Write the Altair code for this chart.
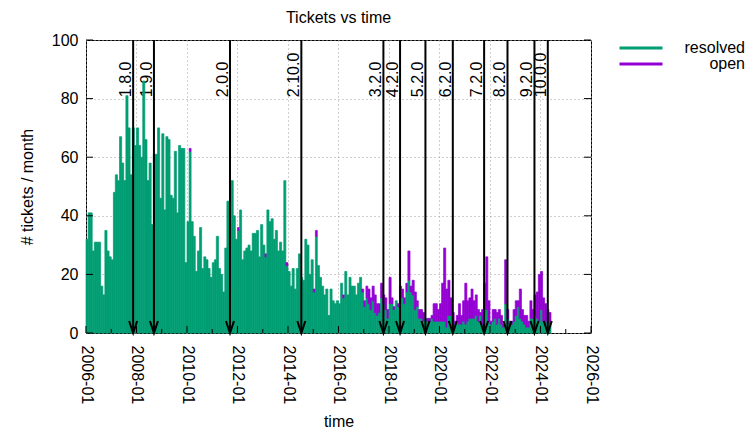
import altair as alt
import pandas as pd

FONT = "Liberation Sans"

# ---------------- data ----------------
start_month = "2006-01-01"

resolved = [
    32, 41, 41, 28, 31, 31, 31, 16, 13, 35, 28, 26,   # 2006
    25, 48, 54, 52, 67, 58, 52, 81, 70, 54, 70, 64,   # 2007
    70, 64, 60, 86, 66, 52, 58, 37, 61, 61, 70, 46,   # 2008
    68, 42, 67, 66, 47, 46, 62, 41, 64, 63, 63, 24,   # 2009
    38, 62, 38, 33, 21, 28, 36, 22, 26, 25, 22, 19,   # 2010
    24, 25, 33, 22, 20, 14, 29, 45, 37, 52, 40, 32,   # 2011
    35, 42, 25, 28, 29, 30, 28, 34, 34, 35, 26, 37,   # 2012
    30, 26, 42, 38, 39, 32, 35, 28, 31, 28, 52, 23,   # 2013
    21, 16, 22, 15, 22, 27, 19, 18, 32, 30, 20, 25,   # 2014
    14, 33, 23, 19, 16, 13, 15, 6, 15, 11, 10, 11,    # 2015
    10, 17, 12, 21, 13, 19, 16, 16, 13, 17, 19, 14,   # 2016
    9, 12, 10, 8, 11, 7, 6, 7, 12, 10, 8, 5,          # 2017
    10, 10, 8, 11, 9, 10, 12, 10, 14, 18, 14, 13,     # 2018
    8, 9, 5, 5, 4, 5, 4, 4, 5, 4, 4, 4,               # 2019
    4, 4, 4, 2, 6, 6, 4, 3, 4, 3, 3, 4,               # 2020
    3, 4, 5, 5, 5, 6, 4, 6, 3, 7, 8, 4,               # 2021
    3, 4, 5, 3, 5, 3, 2, 10, 5, 3, 3, 4,              # 2022
    6, 9, 5, 4, 3, 2, 2, 5, 5, 6, 5, 4,               # 2023
    8, 4, 3, 4, 3,                                    # 2024
]

open_tickets = [
    0, 0, 0, 0, 0, 0, 0, 0, 0, 0, 0, 0,
    0, 0, 0, 0, 0, 0, 0, 0, 0, 0, 0, 0,
    0, 0, 0, 0, 0, 0, 0, 0, 0, 0, 0, 0,
    0, 0, 0, 0, 0, 0, 0, 0, 0, 0, 0, 0,
    0, 1, 0, 0, 0, 0, 0, 0, 0, 0, 0, 0,
    0, 0, 0, 0, 0, 0, 0, 0, 0, 0, 0, 0,
    1, 0, 0, 0, 0, 0, 0, 0, 0, 0, 0, 0,
    0, 1, 0, 0, 0, 0, 0, 0, 0, 0, 0, 1,
    0, 0, 0, 0, 0, 0, 0, 0, 0, 0, 0, 0,
    1, 2, 0, 0, 0, 0, 0, 0, 0, 0, 0, 0,
    0, 0, 1, 0, 0, 0, 0, 0, 0, 0, 0, 1,
    2, 4, 5, 4, 5, 6, 4, 3, 5, 3, 4, 3,
    9, 2, 1, 0, 1, 6, 3, 2, 3, 10, 2, 5,
    6, 2, 3, 3, 3, 0, 1, 1, 1, 6, 6, 4,
    6, 13, 25, 13, 12, 6, 3, 1, 2, 7, 3, 7,
    14, 7, 7, 10, 6, 7, 4, 1, 5, 10, 18, 7,
    1, 4, 3, 4, 3, 3, 1, 15, 3, 1, 1, 4,
    5, 2, 10, 4, 3, 4, 2, 6, 3, 7, 9, 16,
    13, 8, 7, 4, 4,
]

release_names = ["1.8.0", "1.9.0", "2.0.0", "2.10.0", "3.2.0", "4.2.0",
                 "5.2.0", "6.2.0", "7.2.0", "8.2.0", "9.2.0", "10.0.0"]
release_dates = ["2007-11-14", "2008-09-10", "2011-09-15", "2014-07-13",
                 "2017-10-12", "2018-06-10", "2019-06-12", "2020-07-12",
                 "2021-10-08", "2022-09-11", "2023-10-06", "2024-04-16"]

series_names = ["resolved", "open"]
series_colors = ["#009e73", "#9400d3"]

tick_years = [2006, 2008, 2010, 2012, 2014, 2016, 2018, 2020, 2022, 2024, 2026]
minor_years = [2007, 2009, 2011, 2013, 2015, 2017, 2019, 2021, 2023, 2025]
y_ticks = [0, 20, 40, 60, 80, 100]

# ---------------- tables ----------------
months = pd.date_range(start_month, periods=len(resolved), freq="MS")
rows = []
for i, d in enumerate(months):
    end = d + pd.offsets.MonthBegin(1)
    r, o = resolved[i], open_tickets[i]
    rows.append(dict(date=d, end=end, series="resolved", lo=0, hi=r))
    if o > 0:
        rows.append(dict(date=d, end=end, series="open", lo=r, hi=r + o))
bars_df = pd.DataFrame(rows)

rel_df = pd.DataFrame({"name": release_names, "date": pd.to_datetime(release_dates)})
ytick_df = pd.DataFrame({"v": y_ticks})
xmajor_df = pd.DataFrame({"d": pd.to_datetime([f"{y}-01-01" for y in tick_years])})
xminor_df = pd.DataFrame({"d": pd.to_datetime([f"{y}-01-01" for y in minor_years])})

W, H = 505, 293

xscale = alt.Scale(domain=[alt.DateTime(year=2006, month=1, date=1),
                           alt.DateTime(year=2026, month=1, date=1)])
yscale = alt.Scale(domain=[0, 100], nice=False)
cscale = alt.Scale(domain=series_names, range=series_colors)

x_axis = alt.Axis(
    values=[alt.DateTime(year=y, month=1, date=1) for y in tick_years],
    format="%Y-%m", labelAngle=90, labelAlign="left", labelBaseline="middle",
    labelPadding=12, labelFlush=False, labelOverlap=False, title="time",
    titlePadding=10, grid=True,
)
y_axis = alt.Axis(values=y_ticks, labelPadding=8, title="# tickets / month",
                  titlePadding=16, grid=True)

# release labels are drawn first so that the tall bars pass over them
rel_text = alt.Chart(rel_df).mark_text(
    angle=270, align="left", baseline="alphabetic", dy=-2,
    font=FONT, fontSize=16, color="black",
).encode(
    x=alt.X("date:T", scale=xscale, axis=x_axis),
    y=alt.Y(datum=80.5, scale=yscale, axis=y_axis),
    text="name:N",
)

bars = alt.Chart(bars_df).mark_bar(strokeWidth=0.7, opacity=1).encode(
    x="date:T",
    x2="end:T",
    y="lo:Q",
    y2="hi:Q",
    color=alt.Color(
        "series:N", scale=cscale,
        legend=alt.Legend(
            title=None, orient="none", legendX=547, legendY=0,
            symbolType="M -5.375 -0.375 L 5.375 -0.375 L 5.375 0.375 L -5.375 0.375 Z",
            symbolSize=64, symbolStrokeWidth=0, symbolOpacity=1,
            labelFont=FONT, labelFontSize=16, labelColor="black",
            labelAlign="right", labelOffset=96, padding=0, rowPadding=0,
        ),
    ),
    stroke=alt.condition(alt.datum.series == series_names[1],
                         alt.value(series_colors[1]), alt.value(series_colors[0])),
)

yt_right = alt.Chart(ytick_df).mark_rule(color="black", strokeWidth=1).encode(
    y="v:Q", x=alt.value(W), x2=alt.value(W - 7))
yt_left = alt.Chart(ytick_df).mark_rule(color="black", strokeWidth=1).encode(
    y="v:Q", x=alt.value(0), x2=alt.value(7))
xt_major = alt.Chart(xmajor_df).mark_rule(color="black", strokeWidth=1).encode(
    x="d:T", y=alt.value(H), y2=alt.value(H - 7))
xt_minor = alt.Chart(xminor_df).mark_rule(color="black", strokeWidth=1).encode(
    x="d:T", y=alt.value(H), y2=alt.value(H - 4))

rel_lines = alt.Chart(rel_df).mark_rule(color="black", strokeWidth=2).encode(
    x="date:T", y=alt.value(0), y2=alt.value(H))
rel_heads = alt.Chart(rel_df).mark_point(
    shape="M -0.8 -2.4 L 0 0 L 0.8 -2.4", filled=False, size=100,
    strokeWidth=2, color="black", opacity=1,
).encode(x="date:T", y=alt.datum(0))

chart = alt.layer(
    rel_text, bars, yt_right, yt_left, xt_major, xt_minor,
    rel_lines, rel_heads,
).properties(
    width=W, height=H,
    title=alt.Title("Tickets vs time", anchor="middle", frame="group"),
    padding={"left": 78, "top": 32, "right": 155, "bottom": 110},
    autosize=alt.AutoSizeParams(type="none"),
).configure_view(
    stroke="black", strokeWidth=1,
).configure_axis(
    labelFont=FONT, titleFont=FONT, labelFontSize=16, titleFontSize=16,
    labelColor="black", titleColor="black", titleFontWeight="normal",
    domain=False, ticks=False, tickSize=0,
    gridColor="#a0a0a0", gridDash=[1, 3], gridOpacity=1, gridWidth=1,
).configure_title(
    font=FONT, fontSize=16, fontWeight="normal", color="black", offset=6,
)

chart.save("out.html", embed_options={"renderer": "svg", "actions": False})
